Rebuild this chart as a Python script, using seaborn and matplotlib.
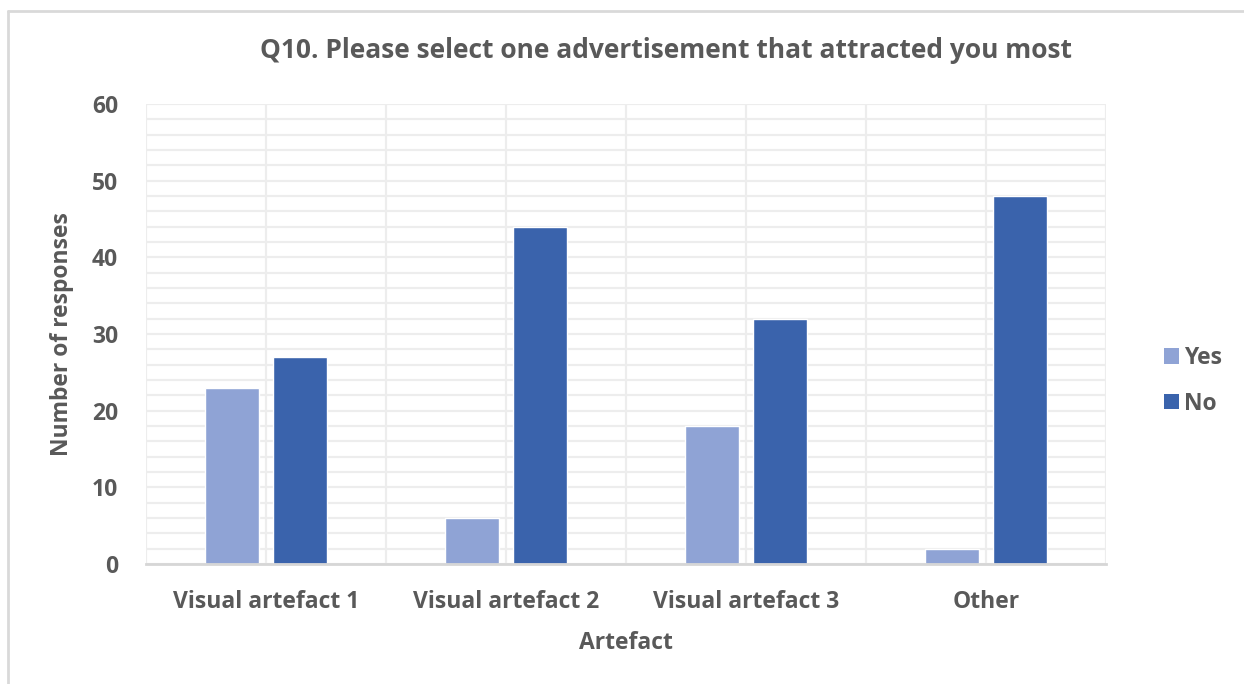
import matplotlib
matplotlib.use("Agg")
import matplotlib.pyplot as plt
from matplotlib.lines import Line2D
from matplotlib.patches import Patch
import numpy as np
import pandas as pd
import seaborn as sns

categories = ["Visual artefact 1", "Visual artefact 2", "Visual artefact 3", "Other"]
yes_counts = [23, 6, 18, 2]
no_counts = [27, 44, 32, 48]
series = ["Yes", "No"]
colors = ["#8FA3D5", "#3A63AC"]
y_ticks = [0, 10, 20, 30, 40, 50, 60]

df = pd.DataFrame({
    "Artefact": categories * 2,
    "Responses": yes_counts + no_counts,
    "Answer": ["Yes"] * len(categories) + ["No"] * len(categories),
})

sns.set_theme(style="white")
plt.rcParams["font.family"] = ["Open Sans", "DejaVu Sans"]
text_color = "#595959"
fs = 16.5

fig = plt.figure(figsize=(12.44, 6.84), dpi=100)
W, H = 1244, 684
ax = fig.add_axes([146 / W, (H - 564) / H, (1106 - 146) / W, (564 - 104) / H])

sns.barplot(data=df, x="Artefact", y="Responses", hue="Answer",
            hue_order=series, palette=colors, order=categories,
            width=0.567, gap=0.22, saturation=1, ax=ax, legend=False, zorder=3)

ax.set_xlim(-0.5, len(categories) - 0.5)
ax.set_ylim(0, 60)
ax.set_yticks(y_ticks)
ax.set_yticks(np.arange(0, 61, 2), minor=True)
ax.set_xticks(np.arange(-0.5, len(categories), 0.5), minor=True)
ax.grid(which="both", axis="both", color="#EDEDED", linewidth=1.6, zorder=0)
ax.set_axisbelow(True)
for s in ["top", "right", "left"]:
    ax.spines[s].set_visible(False)
ax.spines["bottom"].set_color("#D6D6D6")
ax.spines["bottom"].set_linewidth(2)
ax.spines["bottom"].set_zorder(4)
ax.tick_params(which="both", length=0)
ax.tick_params(axis="x", pad=19, labelsize=fs, labelcolor=text_color)
ax.tick_params(axis="y", pad=20, labelsize=fs, labelcolor=text_color)
for lab in ax.get_xticklabels() + ax.get_yticklabels():
    lab.set_fontweight("bold")

ax.set_xlabel("Artefact", fontsize=fs, fontweight="bold", color=text_color, labelpad=12)
ax.set_ylabel("Number of responses", fontsize=fs, fontweight="bold", color=text_color, labelpad=13)
fig.text(666 / W, 1 - 50 / H, "Q10. Please select one advertisement that attracted you most",
         ha="center", va="center", fontsize=19, fontweight="bold", color=text_color)

handles = [Patch(facecolor=c, edgecolor="none") for c in colors]
leg = fig.legend(handles, series, loc="center left", bbox_to_anchor=(1143 / W, 1 - 381 / H),
                 frameon=False, fontsize=fs, handlelength=0.65, handleheight=0.65,
                 handletextpad=0.25, labelspacing=0.95)
for t in leg.get_texts():
    t.set_color(text_color)
    t.set_fontweight("bold")

# light frame along the top and left edges
fig.add_artist(Line2D([8 / W, 8 / W], [0, 1 - 11 / H], color="#D9D9D9", linewidth=2,
                      transform=fig.transFigure))
fig.add_artist(Line2D([8 / W, 1], [1 - 11 / H, 1 - 11 / H], color="#D9D9D9", linewidth=2,
                      transform=fig.transFigure))

fig.savefig("out.png", dpi=100)
